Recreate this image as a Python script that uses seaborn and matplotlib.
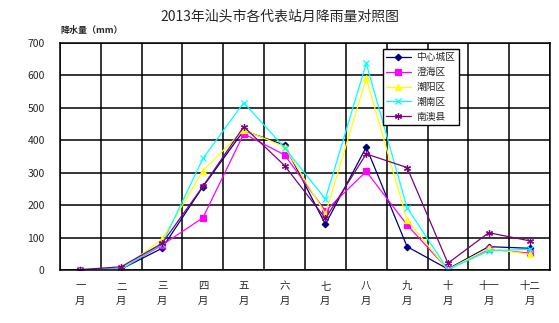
import numpy as np
import pandas as pd
import matplotlib
matplotlib.use("Agg")
import matplotlib.pyplot as plt
from matplotlib.ticker import FixedLocator, MultipleLocator
import seaborn as sns

# Monthly rainfall (mm) at each representative station, Shantou 2013
months = ["一\n月", "二\n月", "三\n月", "四\n月", "五\n月", "六\n月",
          "七\n月", "八\n月", "九\n月", "十\n月", "十一\n月", "十二\n月"]
stations = ["中心城区", "澄海区", "潮阳区", "潮南区", "南澳县"]
zhongxin = [1, 3, 67, 257, 430, 385, 141, 379, 72, 3, 72, 67]
chenghai = [1, 3, 77, 161, 420, 355, 182, 304, 139, 2, 64, 52]
chaoyang = [1, 2, 95, 306, 432, 380, 173, 591, 154, 1, 67, 48]
chaonan = [1, 3, 80, 344, 516, 377, 219, 637, 192, 1, 59, 64]
nanao = [1, 10, 82, 258, 442, 322, 159, 358, 316, 21, 115, 90]

colors = ["#000080", "#FF00FF", "#FFFF00", "#00FFFF", "#800080"]
marker_styles = ["D", "s", "^", "x", (6, 2, 0)]
marker_sizes = [3.3, 4.2, 4.3, 4.0, 5.0]

series = [zhongxin, chenghai, chaoyang, chaonan, nanao]
df = pd.DataFrame({
    "月份": np.tile(np.arange(len(months)), len(stations)),
    "降雨量": np.concatenate(series),
    "站点": np.repeat(stations, len(months)),
})

sns.set_theme(style="white")
plt.rcParams["font.family"] = ["Noto Sans CJK SC", "DejaVu Sans"]
plt.rcParams["axes.unicode_minus"] = False

fig = plt.figure(figsize=(5.59, 3.23), dpi=100)
ax = fig.add_axes([60 / 559, 53 / 323, 490 / 559, 227 / 323])

sns.lineplot(
    data=df, x="月份", y="降雨量", hue="站点",
    hue_order=stations, palette=dict(zip(stations, colors)),
    linewidth=0.9, ax=ax, legend=False,
)
series_lines = ax.lines[:len(stations)]
for line, c, m, ms, name in zip(series_lines, colors, marker_styles,
                                marker_sizes, stations):
    line.set_marker(m)
    line.set_markersize(ms)
    line.set_markeredgecolor(c)
    line.set_markerfacecolor(c)
    line.set_markeredgewidth(0.9)
    line.set_label(name)

ax.set_xlim(-0.5, len(months) - 0.5)
ax.set_ylim(0, 700)
ax.yaxis.set_major_locator(MultipleLocator(100))
ax.set_xticks(np.arange(len(months)))
ax.set_xticklabels(months, fontsize=7.5, linespacing=1.55)
ax.xaxis.set_minor_locator(FixedLocator(np.arange(-0.5, len(months), 1.0)))
ax.tick_params(axis="x", which="both", length=0, pad=8)
ax.tick_params(axis="y", length=0, pad=11, labelsize=7.5)
ax.grid(axis="y", which="major", color="black", linewidth=1.1)
ax.grid(axis="x", which="minor", color="black", linewidth=1.1)
ax.grid(axis="x", which="major", visible=False)
ax.set_axisbelow(True)
for s in ax.spines.values():
    s.set_color("black")
    s.set_linewidth(1.1)
ax.set_xlabel("")
ax.set_ylabel("")

fig.text(0.5, 1 - 17 / 323, "2013年汕头市各代表站月降雨量对照图",
         ha="center", va="center", fontsize=10)
fig.text(60 / 559, 1 - 31 / 323, "降水量（mm）",
         ha="left", va="center", fontsize=6.5, fontweight="bold")

leg = ax.legend(series_lines, stations, loc="upper left",
                bbox_to_anchor=(0.659, 0.974), fontsize=7,
                frameon=True, fancybox=False, framealpha=1,
                edgecolor="black", handlelength=2.5, handletextpad=0.6,
                labelspacing=0.5, borderpad=0.35, borderaxespad=0)
leg.get_frame().set_linewidth(1.0)

fig.savefig("out.png", dpi=100)
